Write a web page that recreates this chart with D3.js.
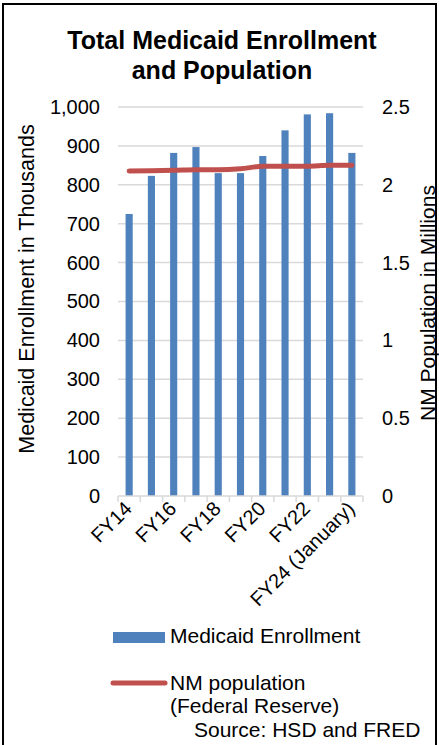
<!DOCTYPE html>
<html><head><meta charset="utf-8">
<script src="https://cdn.jsdelivr.net/npm/d3@7"></script>
<style>
html,body{margin:0;padding:0;background:#fff;}
svg{display:block;font-family:"Liberation Sans",Arial,sans-serif;}
</style></head>
<body>
<svg id="chart" width="439" height="745"></svg>
<script>
const categories = ["FY14","FY15","FY16","FY17","FY18","FY19","FY20","FY21","FY22","FY23","FY24 (January)"];
const shownLabels = ["FY14","FY16","FY18","FY20","FY22","FY24 (January)"];
const enrollment = [725, 823, 882, 897, 830, 830, 874, 940, 981, 984, 882];
const population = [2.089, 2.091, 2.093, 2.097, 2.097, 2.103, 2.119, 2.119, 2.119, 2.125, 2.125];
const leftTicks = [0,100,200,300,400,500,600,700,800,900,1000];
const rightTicks = [0,0.5,1,1.5,2,2.5];

const svg = d3.select("#chart");
const W = 439, H = 745;
const plot = {left:118, right:363, top:107, bottom:496};

// border
svg.append("rect").attr("x",3).attr("y",4).attr("width",433).attr("height",H+10)
  .attr("fill","none").attr("stroke","#000").attr("stroke-width",2);

// title
const title = svg.append("text").attr("text-anchor","middle").attr("font-weight","bold")
  .attr("font-size",25).attr("fill","#000");
title.append("tspan").attr("x",222).attr("y",49).text("Total Medicaid Enrollment");
title.append("tspan").attr("x",222).attr("y",79).text("and Population");

const x = d3.scaleBand().domain(categories).range([plot.left, plot.right]).padding(0);
const yL = d3.scaleLinear().domain([0,1000]).range([plot.bottom, plot.top]);
const yR = d3.scaleLinear().domain([0,2.5]).range([plot.bottom, plot.top]);

// gridlines
svg.append("g").selectAll("line").data(leftTicks.slice(1)).join("line")
  .attr("x1",plot.left).attr("x2",plot.right)
  .attr("y1",d=>yL(d)).attr("y2",d=>yL(d))
  .attr("stroke","#d9d9d9").attr("stroke-width",1.5);

// left axis labels
const gl = svg.append("g").attr("transform",`translate(${plot.left-18},0)`)
  .call(d3.axisLeft(yL).tickValues(leftTicks).tickSize(0).tickPadding(0).tickFormat(d3.format(",")));
gl.select(".domain").remove();
gl.selectAll("text").attr("font-size",20).attr("fill","#000").attr("font-family","Liberation Sans, Arial, sans-serif");

// right axis labels
const gr = svg.append("g").attr("transform",`translate(${plot.right+19},0)`)
  .call(d3.axisRight(yR).tickValues(rightTicks).tickSize(0).tickPadding(0).tickFormat(d=>String(d)));
gr.select(".domain").remove();
gr.selectAll("text").attr("font-size",20).attr("fill","#000").attr("font-family","Liberation Sans, Arial, sans-serif");

// bars
const bw = x.bandwidth()*0.32;
svg.append("g").selectAll("rect").data(categories).join("rect")
  .attr("x",(d)=>x(d)+x.bandwidth()/2-bw/2)
  .attr("width",bw)
  .attr("y",(d,i)=>yL(enrollment[i]))
  .attr("height",(d,i)=>yL(0)-yL(enrollment[i]))
  .attr("fill","#4F81BD");

// x axis line & ticks
svg.append("line").attr("x1",plot.left).attr("x2",plot.right)
  .attr("y1",plot.bottom).attr("y2",plot.bottom)
  .attr("stroke","#d9d9d9").attr("stroke-width",1.5);
const boundaries = categories.map(c=>x(c)).concat([plot.right]);
svg.append("g").selectAll("line").data(boundaries).join("line")
  .attr("x1",d=>d).attr("x2",d=>d).attr("y1",plot.bottom).attr("y2",plot.bottom+6)
  .attr("stroke","#d9d9d9").attr("stroke-width",1.5);

// x labels
svg.append("g").selectAll("text").data(shownLabels).join("text")
  .attr("transform",d=>`translate(${x(d)+x.bandwidth()/2+4},${plot.bottom+14}) rotate(-45)`)
  .attr("text-anchor","end").attr("font-size",20).attr("fill","#000")
  .text(d=>d);

// population line
const line = d3.line().x((d,i)=>x(categories[i])+x.bandwidth()/2).y(d=>yR(d)).curve(d3.curveMonotoneX);
svg.append("path").datum(population).attr("d",line)
  .attr("fill","none").attr("stroke","#C0504D").attr("stroke-width",5)
  .attr("stroke-linecap","round").attr("stroke-linejoin","round");

// axis titles
svg.append("text").attr("transform",`translate(34,289) rotate(-90)`)
  .attr("text-anchor","middle").attr("font-size",21.5).attr("fill","#000")
  .text("Medicaid Enrollment in Thousands");
svg.append("text").attr("transform",`translate(435,303) rotate(-90)`)
  .attr("text-anchor","middle").attr("font-size",21).attr("fill","#000")
  .text("NM Population in Millions");

// legend
svg.append("rect").attr("x",113).attr("y",632).attr("width",52).attr("height",11).attr("fill","#4F81BD");
svg.append("text").attr("x",170).attr("y",643).attr("font-size",21).attr("fill","#000").text("Medicaid Enrollment");
svg.append("line").attr("x1",113).attr("x2",165).attr("y1",683).attr("y2",683)
  .attr("stroke","#C0504D").attr("stroke-width",5).attr("stroke-linecap","round");
const lt = svg.append("text").attr("font-size",21).attr("fill","#000");
lt.append("tspan").attr("x",170).attr("y",690).text("NM population");
lt.append("tspan").attr("x",170).attr("y",713).text("(Federal Reserve)");
svg.append("text").attr("x",194).attr("y",737).attr("font-size",21).attr("fill","#000").text("Source: HSD and FRED");
</script>
</body></html>
